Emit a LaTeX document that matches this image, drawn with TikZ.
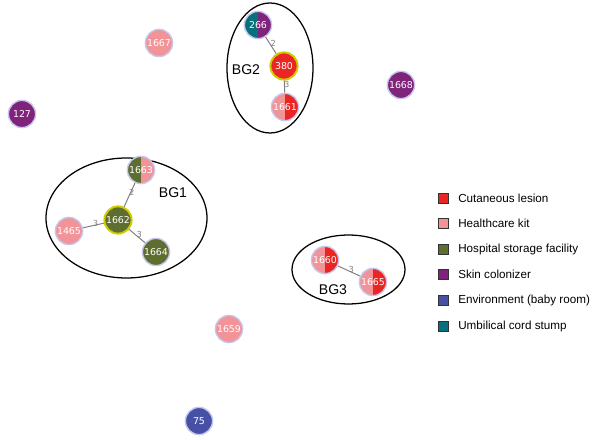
\documentclass[tikz,border=0pt]{standalone}
\usepackage{fontspec}
\setmainfont{Liberation Sans}
\newfontfamily\numfont{DejaVu Sans}

\definecolor{lesion}{RGB}{234,38,36}
\definecolor{kit}{RGB}{242,148,151}
\definecolor{storage}{RGB}{94,110,46}
\definecolor{skin}{RGB}{128,35,122}
\definecolor{room}{RGB}{70,81,166}
\definecolor{cord}{RGB}{8,112,124}
\definecolor{ring}{RGB}{197,197,238}
\definecolor{founderring}{RGB}{206,202,0}
\definecolor{linkgray}{RGB}{128,128,128}

\tikzset{
  isolate/.style={circle, draw=ring, line width=1pt, minimum size=0.68cm,
    inner sep=0pt, text=white, font=\numfont\fontsize{6.7}{7}\selectfont},
  founder/.style={isolate, draw=founderring, line width=1.4pt},
  halves/.style 2 args={path picture={
    \fill[#1] (path picture bounding box.south west) rectangle (path picture bounding box.north);
    \fill[#2] (path picture bounding box.south) rectangle (path picture bounding box.north east);}},
  link/.style={draw=linkgray, line width=0.7pt},
  dist/.style={midway, inner sep=0pt, xshift=1.6pt, yshift=1.4pt, text=linkgray,
    font=\numfont\fontsize{5.9}{6}\selectfont},
  group/.style={draw=black, line width=0.9pt},
  grouplabel/.style={font=\fontsize{10}{11}\selectfont},
  keybox/.style={draw=black!80, line width=0.6pt, minimum size=0.25cm, inner sep=0pt}
}

\begin{document}
\begin{tikzpicture}

  \useasboundingbox (0,0) rectangle (15,11);

  % the three groups
  \draw[group] (6.75,9.3) ellipse [x radius=1.075, y radius=1.625];
  \draw[group] (3.1625,5.55) ellipse [x radius=2.0125, y radius=1.5];
  \draw[group] (8.7125,4.2625) ellipse [x radius=1.4125, y radius=0.8625];
  \node[grouplabel] (bg2) at (6.15,9.25) {BG2};
  \node[grouplabel] (bg1) at (4.325,6.175) {BG1};
  \node[grouplabel] (bg3) at (8.325,3.75) {BG3};

  % isolates
  \node[isolate, halves={cord}{skin}] (n266) at (6.45,10.375) {266};
  \node[founder, fill=lesion] (n380) at (7.1,9.35) {380};
  \node[isolate, halves={kit}{lesion}] (n1661) at (7.125,8.325) {1661};
  \node[isolate, fill=kit] (n1667) at (3.975,9.925) {1667};
  \node[isolate, fill=skin] (n1668) at (10.025,8.875) {1668};
  \node[isolate, fill=skin] (n127) at (0.55,8.15) {127};
  \node[isolate, halves={storage}{kit}] (n1663) at (3.525,6.75) {1663};
  \node[founder, fill=storage] (n1662) at (2.95,5.5) {1662};
  \node[isolate, fill=kit] (n1465) at (1.725,5.225) {1465};
  \node[isolate, fill=storage] (n1664) at (3.9,4.7) {1664};
  \node[isolate, halves={kit}{lesion}] (n1660) at (8.125,4.5) {1660};
  \node[isolate, halves={kit}{lesion}] (n1665) at (9.325,3.95) {1665};
  \node[isolate, fill=kit] (n1659) at (5.725,2.775) {1659};
  \node[isolate, fill=room] (n75) at (4.975,0.475) {75};

  % links with allele differences
  \draw[link] (n266) -- node[dist] {2} (n380);
  \draw[link] (n380) -- node[dist] {3} (n1661);
  \draw[link] (n1663) -- node[dist] {2} (n1662);
  \draw[link] (n1662) -- node[dist] {3} (n1465);
  \draw[link] (n1662) -- node[dist] {3} (n1664);
  \draw[link] (n1660) -- node[dist] {3} (n1665);

  % legend
  \foreach \col/\txt [count=\i] in
    {
        lesion/Cutaneous lesion,
        kit/Healthcare kit,
        storage/Hospital storage facility,
        skin/Skin colonizer,
        room/Environment (baby room),
        cord/Umbilical cord stump
    }
    {
        \node[keybox, fill=\col] (key\i) at ({11.075}, {6.05-0.64*(\i-1)}) {};
        \node[anchor=west, inner sep=0pt, font=\fontsize{8.3}{9}\selectfont]
          (keytxt\i) at ({11.45}, {6.05-0.64*(\i-1)}) {\txt};
    }

\end{tikzpicture}
\end{document}
